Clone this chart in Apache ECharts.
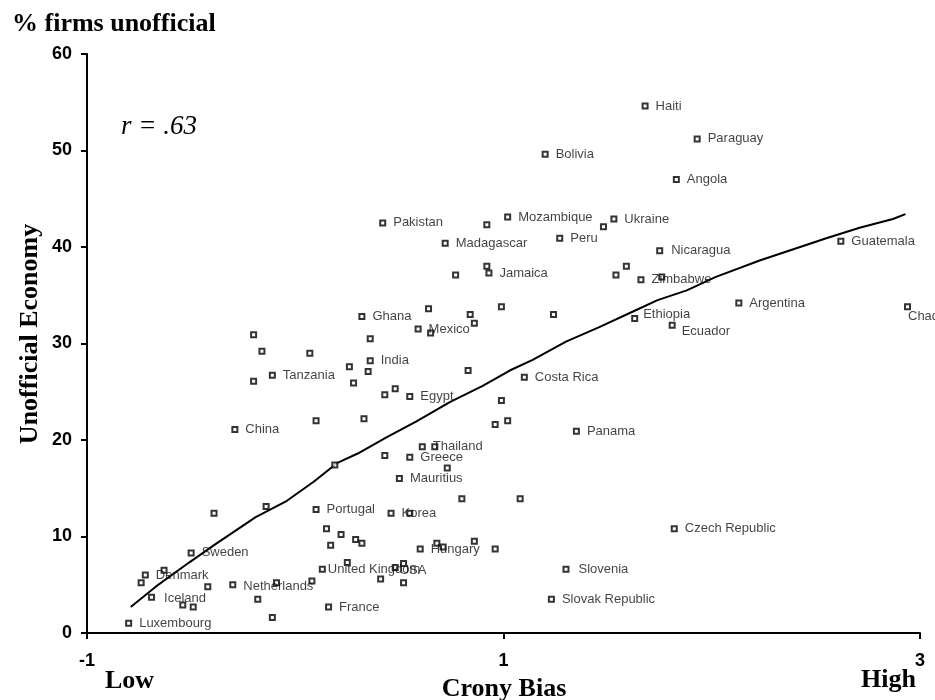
<!DOCTYPE html>
<html>
<head>
<meta charset="utf-8">
<script src="https://cdn.jsdelivr.net/npm/echarts@6/dist/echarts.min.js"></script>
<style>
  html, body { margin: 0; padding: 0; background: #fff; }
  #chart { width: 935px; height: 700px; }
</style>
</head>
<body>
<div id="chart"></div>
<script>
// countries that carry a label
var labelNames = ['Haiti', 'Paraguay', 'Bolivia', 'Angola', 'Pakistan', 'Mozambique', 'Ukraine', 'Peru',
  'Madagascar', 'Nicaragua', 'Guatemala', 'Jamaica', 'Zimbabwe', 'Argentina', 'Chad', 'Ethiopia', 'Ecuador',
  'Ghana', 'Mexico', 'India', 'Tanzania', 'Costa Rica', 'Egypt', 'China', 'Panama', 'Thailand', 'Greece',
  'Mauritius', 'Portugal', 'Korea', 'Czech Republic', 'Sweden', 'Hungary', 'Denmark', 'United Kingdom', 'USA',
  'Slovenia', 'Netherlands', 'Iceland', 'Slovak Republic', 'France', 'Luxembourg']
var labelX = [1.68, 1.93, 1.20, 1.83, 0.42, 1.02, 1.53, 1.27,
  0.72, 1.75, 2.62, 0.93, 1.66, 2.13, 2.94, 1.63, 1.81,
  0.32, 0.59, 0.36, -0.11, 1.10, 0.55, -0.29, 1.35, 0.61, 0.55,
  0.50, 0.10, 0.46, 1.82, -0.50, 0.60, -0.72, 0.13, 0.48,
  1.30, -0.30, -0.69, 1.23, 0.16, -0.80]
var labelY = [54.6, 51.2, 49.6, 47.0, 42.5, 43.1, 42.9, 40.9,
  40.4, 39.6, 40.6, 37.3, 36.6, 34.2, 33.8, 32.6, 31.9,
  32.8, 31.5, 28.2, 26.7, 26.5, 24.5, 21.1, 20.9, 19.3, 18.2,
  16.0, 12.8, 12.4, 10.8, 8.3, 8.7, 6.0, 6.6, 6.8,
  6.6, 5.0, 3.7, 3.5, 2.7, 1.0]

// countries without a label
var otherX = [-0.20, -0.16, 0.07, -0.20, 0.26, 0.35, 0.28, 0.36, 0.10, 0.33, 0.19, -0.39, -0.14, 0.15,
  0.22, 0.17, 0.29, 0.32, -0.74, -0.63, -0.54, -0.49, -0.42, -0.09, -0.18, -0.11, 0.08, 0.25,
  0.80, 1.08, 0.55, 0.68, 0.71, 0.86, 0.96, 0.52, 0.41, 0.52, 0.64, 0.84, 0.99, 1.24, 0.86,
  0.65, 0.83, 0.48, 0.43, 0.99, 0.96, 1.02, 0.67, 0.43, 0.73, 0.92, 1.48, 0.92, 0.77, 1.54,
  1.59, 1.76]
var otherY = [30.9, 29.2, 29.0, 26.1, 27.6, 27.1, 25.9, 30.5, 22.0, 22.2, 17.4, 12.4, 13.1, 10.8,
  10.2, 9.1, 9.7, 9.3, 5.2, 6.5, 2.9, 2.7, 4.8, 5.2, 3.5, 1.6, 5.4, 7.3,
  13.9, 13.9, 12.4, 9.3, 8.9, 9.5, 8.7, 7.2, 5.6, 5.2, 33.6, 33.0, 33.8, 33.0, 32.1,
  31.1, 27.2, 25.3, 24.7, 24.1, 21.6, 22.0, 19.3, 18.4, 17.1, 42.3, 42.1, 38.0, 37.1, 37.1,
  38.0, 36.9]

// smoothed fit line
var fitX = [-0.79, -0.67, -0.51, -0.39, -0.19, -0.04, 0.09, 0.20, 0.30, 0.44, 0.58, 0.74, 0.90,
  1.03, 1.14, 1.30, 1.46, 1.64, 1.74, 1.88, 2.02, 2.23, 2.55, 2.71, 2.87, 2.93]
var fitY = [2.7, 4.8, 7.3, 9.1, 12.0, 13.7, 15.7, 17.6, 18.6, 20.3, 21.9, 23.9, 25.6,
  27.2, 28.3, 30.2, 31.7, 33.5, 34.5, 35.5, 36.9, 38.6, 40.9, 42.0, 42.9, 43.4]

var xTicks = [-1, 1, 3]
var yTicks = [0, 10, 20, 30, 40, 50, 60]

// a few labels sit off the usual spot
var labelShift = {
  'United Kingdom': [-5, 0],
  'USA': [-6, 3],
  'Chad': [-10, 10],
  'Ethiopia': [-2, -4],
  'Ecuador': [-1, 6],
  'Netherlands': [0, 2],
  'Iceland': [2, 1],
  'Slovenia': [2, 0],
  'Nicaragua': [1, 0]
}

var points = []
for (var i = 0; i < labelNames.length; i++) {
  var item = { name: labelNames[i], value: [labelX[i], labelY[i]] }
  if (labelShift[labelNames[i]]) {
    item.label = { offset: labelShift[labelNames[i]] }
  }
  points.push(item)
}
var others = []
for (var j = 0; j < otherX.length; j++) {
  others.push({ name: '', value: [otherX[j], otherY[j]] })
}
var fitLine = []
for (var k = 0; k < fitX.length; k++) {
  fitLine.push([fitX[k], fitY[k]])
}

var markStyle = {
  color: '#fff',
  borderColor: '#000',
  borderWidth: 2
}
var serif = 'Liberation Serif, Times New Roman, serif'
var sans = 'Liberation Sans, Arial, sans-serif'

var option = {
  animation: false,
  backgroundColor: '#fff',
  grid: {
    left: 87,
    right: 15,
    top: 54,
    bottom: 67
  },
  xAxis: {
    type: 'value',
    min: xTicks[0],
    max: xTicks[xTicks.length - 1],
    interval: xTicks[1] - xTicks[0],
    splitLine: { show: false },
    axisLine: { onZero: false, lineStyle: { color: '#000', width: 2 } },
    axisTick: { length: 6, lineStyle: { color: '#000', width: 2 } },
    axisLabel: {
      margin: 19,
      color: '#000',
      fontSize: 18,
      fontWeight: 'bold',
      fontFamily: sans
    }
  },
  yAxis: {
    type: 'value',
    min: yTicks[0],
    max: yTicks[yTicks.length - 1],
    interval: yTicks[1] - yTicks[0],
    splitLine: { show: false },
    axisLine: { show: true, onZero: false, lineStyle: { color: '#000', width: 2 } },
    axisTick: { show: true, length: 6, lineStyle: { color: '#000', width: 2 } },
    axisLabel: {
      margin: 15,
      color: '#000',
      fontSize: 18,
      fontWeight: 'bold',
      fontFamily: sans
    }
  },
  graphic: [
    {
      type: 'text',
      left: 12,
      top: 11,
      style: { text: '% firms unofficial', fill: '#000', font: 'bold 26px ' + serif }
    },
    {
      type: 'text',
      x: 121,
      y: 127,
      style: { text: 'r = .63', fill: '#000', font: 'italic 27px ' + serif, align: 'left', verticalAlign: 'middle' }
    },
    {
      type: 'text',
      x: 30,
      y: 334,
      rotation: Math.PI / 2,
      style: { text: 'Unofficial Economy', fill: '#000', font: 'bold 26px ' + serif, align: 'center', verticalAlign: 'middle' }
    },
    {
      type: 'text',
      x: 105,
      y: 681,
      style: { text: 'Low', fill: '#000', font: 'bold 26px ' + serif, align: 'left', verticalAlign: 'middle' }
    },
    {
      type: 'text',
      x: 504,
      y: 689,
      style: { text: 'Crony Bias', fill: '#000', font: 'bold 26px ' + serif, align: 'center', verticalAlign: 'middle' }
    },
    {
      type: 'text',
      x: 916,
      y: 680,
      style: { text: 'High', fill: '#000', font: 'bold 26px ' + serif, align: 'right', verticalAlign: 'middle' }
    }
  ],
  series: [
    {
      name: 'fit',
      type: 'line',
      data: fitLine,
      symbol: 'none',
      smooth: false,
      lineStyle: { color: '#000', width: 2 },
      z: 2
    },
    {
      name: 'other',
      type: 'scatter',
      data: others,
      symbol: 'rect',
      symbolSize: 5,
      itemStyle: markStyle,
      z: 3
    },
    {
      name: 'labelled',
      type: 'scatter',
      data: points,
      symbol: 'rect',
      symbolSize: 5,
      itemStyle: markStyle,
      label: {
        show: true,
        position: 'right',
        distance: 7,
        formatter: '{b}',
        color: '#111',
        fontSize: 13,
        fontFamily: sans
      },
      z: 4
    }
  ]
}

var chart = echarts.init(document.getElementById('chart'))
chart.setOption(option)
</script>
</body>
</html>
